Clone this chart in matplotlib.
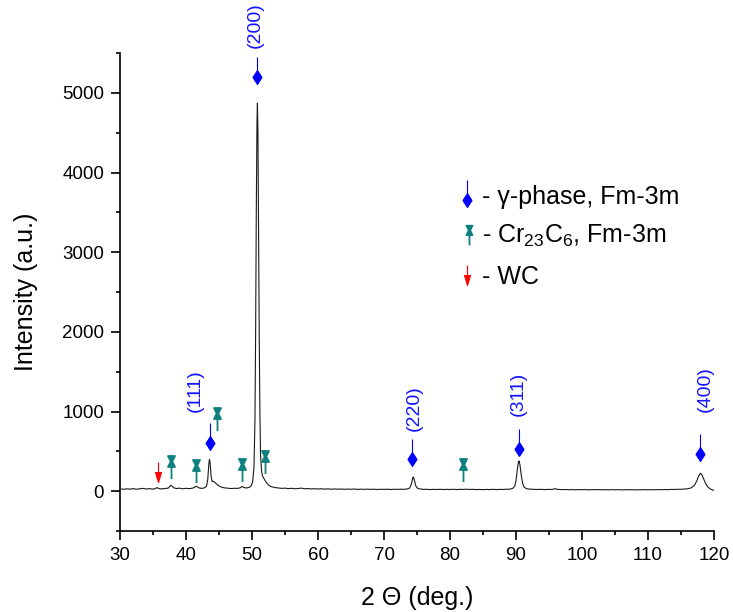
import matplotlib
matplotlib.use("Agg")
import matplotlib.pyplot as plt
from matplotlib.path import Path
from matplotlib.ticker import MultipleLocator

plt.rcParams['font.family'] = ['Liberation Sans', 'DejaVu Sans']
plt.rcParams['mathtext.fontset'] = 'custom'
plt.rcParams['mathtext.rm'] = 'Liberation Sans'
plt.rcParams['mathtext.it'] = 'Liberation Sans'
plt.rcParams['mathtext.default'] = 'regular'

# ---- data ----
two_theta = [30.25, 30.5, 31, 31.5, 32, 32.5, 33, 33.5, 34, 34.5, 35, 35.3, 35.6, 35.9, 36.3, 36.8,
             37.3, 37.5, 37.7, 37.9, 38.2, 38.6, 39, 39.5, 40, 40.5, 41, 41.3, 41.5, 41.7, 42, 42.4,
             42.8, 43.1, 43.3, 43.45, 43.55, 43.65, 43.8, 43.95, 44.1, 44.3, 44.5, 44.7, 45, 45.4,
             45.8, 46.3, 46.8, 47.3, 47.8, 48.2, 48.5, 48.8, 49.2, 49.6, 49.9, 50.1, 50.3, 50.45,
             50.55, 50.65, 50.75, 50.82, 50.9, 51.0, 51.1, 51.2, 51.3, 51.45, 51.6, 51.8, 52.0, 52.3,
             52.6, 53, 53.5, 54, 54.5, 55, 55.5, 56, 56.5, 57, 57.5, 58, 58.5, 59, 59.5, 60, 60.5,
             61, 61.5, 62, 62.5, 63, 63.5, 64, 64.5, 65, 65.5, 66, 66.5, 67, 67.5, 68, 68.5, 69,
             69.5, 70, 70.5, 71, 71.5, 72, 72.5, 73, 73.5, 73.9, 74.15, 74.35, 74.45, 74.6, 74.8,
             75.0, 75.3, 75.7, 76, 76.5, 77, 77.5, 78, 78.5, 79, 79.5, 80, 80.5, 81, 81.5, 82, 82.5,
             83, 83.5, 84, 84.5, 85, 85.5, 86, 86.5, 87, 87.5, 88, 88.5, 89, 89.5, 89.8, 90.0, 90.2,
             90.35, 90.45, 90.6, 90.8, 91.0, 91.2, 91.5, 91.9, 92.3, 92.8, 93.3, 93.8, 94.3, 94.8,
             95.3, 95.7, 95.9, 96.1, 96.5, 97, 97.5, 98, 98.5, 99, 99.5, 100, 100.5, 101, 101.5,
             102, 102.5, 103, 103.5, 104, 104.5, 105, 105.5, 106, 106.5, 107, 107.5, 108, 108.5,
             109, 109.5, 110, 110.5, 111, 111.5, 112, 112.5, 113, 113.5, 114, 114.5, 115, 115.5,
             116, 116.5, 117, 117.4, 117.7, 117.95, 118.2, 118.5, 118.8, 119.1, 119.4, 119.7, 120]
intensity = [28, 22, 30, 25, 32, 24, 29, 35, 27, 31, 26, 30, 45, 32, 28, 33,
             38, 55, 75, 60, 40, 33, 38, 30, 36, 32, 38, 48, 62, 55, 40, 35,
             42, 60, 150, 330, 400, 360, 190, 120, 125, 115, 100, 85, 65, 50,
             42, 38, 33, 36, 35, 42, 60, 45, 40, 48, 70, 120, 300, 900,
             2000, 3500, 4600, 4870, 4500, 3200, 1900, 950, 450, 250, 190, 160, 130, 95,
             70, 55, 45, 40, 35, 38, 32, 36, 30, 34, 38, 30, 33, 28, 31, 27, 30,
             26, 29, 24, 28, 25, 27, 23, 26, 24, 27, 22, 25, 23, 26, 22, 25, 21,
             24, 22, 25, 21, 24, 22, 25, 23, 27, 40, 90, 165, 178, 140, 70,
             42, 30, 25, 22, 24, 20, 23, 21, 24, 20, 23, 21, 24, 20, 23, 22, 25,
             21, 23, 20, 22, 19, 22, 20, 23, 20, 22, 21, 24, 25, 35, 60, 130, 270,
             360, 380, 330, 200, 100, 55, 35, 27, 24, 22, 21, 23, 20, 22,
             21, 25, 32, 26, 21, 19, 21, 18, 20, 17, 20, 18, 20, 17, 19,
             18, 20, 17, 19, 16, 19, 17, 19, 16, 18, 17, 19, 16, 18,
             17, 19, 17, 19, 18, 20, 18, 21, 19, 22, 21, 24, 23, 27,
             30, 40, 70, 130, 195, 225, 200, 140, 85, 50, 30, 18, 10]

# gamma-phase reflections (marker positions) and labels
gamma_x = [43.6, 50.7, 74.3, 90.45, 117.9]
gamma_y = [601, 5200, 407, 526, 464]
gamma_labels = ['(111)', '(200)', '(220)', '(311)', '(400)']
label_x = [41.4, 50.45, 74.6, 90.3, 118.6]
label_y = [990, 5560, 752, 940, 990]

# Cr23C6 reflections
cr_x = [37.7, 41.5, 44.65, 48.5, 51.9, 81.9]
cr_y = [300, 250, 900, 265, 365, 265]

# WC reflection
wc_x = [35.7]
wc_y = [238]

legend_texts = ['- \u03b3-phase, Fm-3m', '- Cr$_{23}$C$_{6}$, Fm-3m', '- WC']

BLUE = '#0000ff'
TEAL = '#0f8080'
RED = '#ff0000'

# ---- custom marker paths ----
gamma_path = Path([(0, -7), (4.5, 0), (0, 7), (-4.5, 0), (0, -7), (0, 7), (0, 20)],
                  [Path.MOVETO, Path.LINETO, Path.LINETO, Path.LINETO, Path.CLOSEPOLY,
                   Path.MOVETO, Path.LINETO])
gamma_ms = 40 * 72 / 100.0

cr_path = Path([(-3.5, 11.5), (3.5, 11.5), (0.8, 6), (3.5, 0.5), (-3.5, 0.5), (-0.8, 6), (-3.5, 11.5),
                (0, 0.5), (0, -11.5)],
               [Path.MOVETO, Path.LINETO, Path.LINETO, Path.LINETO, Path.LINETO, Path.LINETO,
                Path.CLOSEPOLY, Path.MOVETO, Path.LINETO])
cr_ms = 23 * 72 / 100.0

wc_path = Path([(-3, 0), (3, 0), (0, -10), (-3, 0), (0, 0), (0, 10)],
               [Path.MOVETO, Path.LINETO, Path.LINETO, Path.CLOSEPOLY, Path.MOVETO, Path.LINETO])
wc_ms = 20 * 72 / 100.0

fig = plt.figure(figsize=(7.33, 6.12), dpi=100)
ax = fig.add_axes([120 / 733, 81 / 612, 594 / 733, 478 / 612])

ax.plot(two_theta, intensity, color='#1a1a1a', lw=0.8, zorder=2)

ax.plot(gamma_x, gamma_y, ls='none', marker=gamma_path, ms=gamma_ms, mfc=BLUE, mec=BLUE, mew=0.8,
        zorder=3, clip_on=False)
ax.plot(cr_x, cr_y, ls='none', marker=cr_path, ms=cr_ms, mfc=TEAL, mec=TEAL, mew=1.3, zorder=3)
ax.plot(wc_x, wc_y, ls='none', marker=wc_path, ms=wc_ms, mfc=RED, mec=RED, mew=0.8, zorder=3)

for lx, ly, t in zip(label_x, label_y, gamma_labels):
    ax.text(lx, ly, t, rotation=90, ha='center', va='bottom', color='#1414ff', fontsize=14,
            clip_on=False)

# legend (manual)
leg_marker_pos = [(0.584, 0.692), (0.588, 0.619), (0.585, 0.536)]
leg_text_y = [0.699, 0.617, 0.531]
leg_markers = [(gamma_path, gamma_ms, BLUE, 0.8), (cr_path, cr_ms * 0.85, TEAL, 1.3),
               (wc_path, wc_ms, RED, 0.8)]
for (mx, my), ty, (mp, ms, c, mw), t in zip(leg_marker_pos, leg_text_y, leg_markers, legend_texts):
    ax.plot([mx], [my], transform=ax.transAxes, ls='none', marker=mp, ms=ms, mfc=c, mec=c, mew=mw,
            clip_on=False)
    ax.text(0.609, ty, t, transform=ax.transAxes, ha='left', va='center', fontsize=18)

ax.set_xlim(30, 120)
ax.set_ylim(-500, 5500)
ax.xaxis.set_major_locator(MultipleLocator(10))
ax.xaxis.set_minor_locator(MultipleLocator(5))
ax.yaxis.set_major_locator(MultipleLocator(1000))
ax.yaxis.set_minor_locator(MultipleLocator(500))
ax.set_yticks([0, 1000, 2000, 3000, 4000, 5000])

for s in ['top', 'right']:
    ax.spines[s].set_visible(False)
for s in ['left', 'bottom']:
    ax.spines[s].set_linewidth(1.2)

ax.tick_params(which='major', direction='out', length=6.5, width=1.2, labelsize=13.5, pad=5)
ax.tick_params(which='minor', direction='out', length=3, width=1.2)

ax.set_xlabel('2 \u0398 (deg.)', fontsize=18, labelpad=16)
ax.set_ylabel('Intensity (a.u.)', fontsize=18, labelpad=17)

fig.savefig('out.png', dpi=100)
